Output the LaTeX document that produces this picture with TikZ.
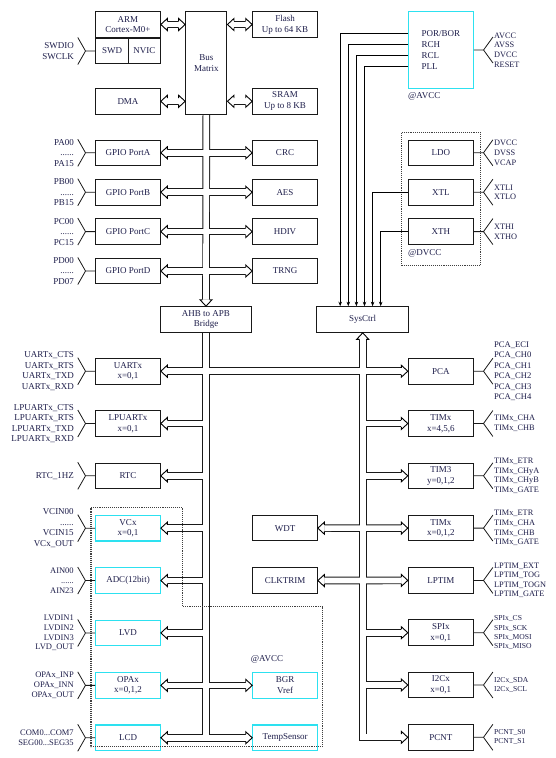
\documentclass[tikz,border=0pt]{standalone}
\usepackage{fontspec}
\setmainfont{Liberation Serif}
\usetikzlibrary{arrows.meta,positioning,calc,backgrounds}
\definecolor{ink}{RGB}{30,30,75}
\definecolor{aqua}{RGB}{45,225,240}
\tikzset{
  >=Stealth,
  every picture/.append style={line width=0.8pt},
}
\tikzset{
  hd/.pic={
    \fill[white] (-6.5,6) -- (0,0) -- (-6.5,-6) -- cycle;
    \draw[line width=0.9pt, line join=miter] (-6.5,3.3) -- (-6.5,6) -- (0,0) -- (-6.5,-6) -- (-6.5,-3.3);
  },
  bothtips/.style={shorten <=6.5pt, shorten >=6.5pt},
  endtip/.style={shorten >=6.5pt}
}

% bus channels: drawn once as outline, once hollow
\newcommand\busnet[1]{%
  \draw[#1,bothtips] (arm.east) -- (arm.east -| busmx.west);
  \draw[#1,bothtips] (dma.east) -- (dma.east -| busmx.west);
  \draw[#1,bothtips] (busmx.east |- flash.west) -- (flash.west);
  \draw[#1,bothtips] (busmx.east |- sram.west) -- (sram.west);
  \draw[#1,endtip] (busmx.south) -- (bridge.north);
  \foreach \p/\q in {porta/crc,portb/aes,portc/hdiv,portd/trng,uart/pca,opa/bgr,lcd/tsens,wdt/timc,clktrim/lptim}
    \draw[#1,bothtips] (\p.east) -- (\q.west);
  \draw[#1] (bridge.south) -- (bridge.south |- lcd.east);
  \foreach \p in {lpuart,rtc,vcx,adc,lvd}
    \draw[#1,endtip] (bridge.south |- \p.east) -- (\p.east);
  \draw[#1,bothtips] (sysctrl.south) -- (sysctrl.south |- pcnt.west) -- (pcnt.west);
  \foreach \p in {tima,timb,spi,i2c}
    \draw[#1,endtip] (sysctrl.south |- \p.west) -- (\p.west);
}
% pin brackets
\newcommand\pinsL[3][pinl]{%
  \draw[brk] (#2.west) -- ++(-9.7,0) coordinate (#2-k) -- ++(-7.7,-13.5) (#2-k) -- ++(-7.7,13.5);
  \node[#1] (#2-pins) at ($(#2-k)+(-11.3,0)$) {#3};
}
\newcommand\pinsR[3][pinr]{%
  \draw[brk] (#2.east) -- ++(9.7,0) coordinate (#2-k) -- ++(9.4,-13) (#2-k) -- ++(9.4,13);
  \node[#1] (#2-pins) at ($(#2-k)+(10.2,0)$) {#3};
}

\begin{document}
\begin{tikzpicture}[x=1pt, y=-1pt,
  blk/.style={draw=black!90, line width=1pt, minimum width=64.6pt, minimum height=25.6pt, align=center, inner sep=1pt, text=ink, font=\fontsize{9}{10.7}\selectfont},
  ana/.style={blk, draw=aqua, line width=1.1pt},
  pinl/.style={inner sep=0pt, align=right, anchor=east, text=ink, font=\fontsize{9}{10.5}\selectfont},
  pinls/.style={pinl, font=\fontsize{8.5}{9.7}\selectfont},
  pinr/.style={inner sep=0pt, align=left, anchor=west, text=ink, font=\fontsize{8.3}{9.6}\selectfont},
  pinrs/.style={pinr, font=\fontsize{7.6}{9.2}\selectfont},
  tag/.style={inner sep=0pt, text=ink, font=\fontsize{9}{10}\selectfont},
  brk/.style={draw=black!90, line width=0.8pt},
  feed/.style={-{Stealth[length=4.5pt,width=3.5pt]}, line width=0.7pt},
  zone/.style={densely dotted, line width=1.1pt, draw=black!75},
  busout/.style={line width=7.6pt, draw=black!90},
  busin/.style={line width=5.7pt, draw=white}
]

% Core and bus matrix
\node[blk] (arm) at (128,24.5) {ARM\\Cortex-M0+};
\node[blk, minimum width=32.6pt, minimum height=25.4pt, anchor=north west] (swd) at (arm.south west) {SWD};
\node[blk, minimum width=32pt, minimum height=25.4pt, anchor=north east] (nvic) at (arm.south east) {NVIC};
\node[blk, minimum width=41.3pt, minimum height=102.6pt] (busmx) at (206.3,63) {Bus\\Matrix};
\node[blk] (dma) at (128,101.3) {DMA};
\node[blk, right=91.4pt of arm] (flash) {Flash\\Up to 64 KB};
\node[blk, right=91.4pt of dma] (sram) {SRAM\\Up to 8 KB};

% AHB peripherals
\node[blk] (porta) at (128,152.8) {GPIO PortA};
\node[blk, below=12.8pt of porta] (portb) {GPIO PortB};
\node[blk, below=12.8pt of portb] (portc) {GPIO PortC};
\node[blk, below=12.8pt of portc] (portd) {GPIO PortD};
\node[blk, right=91.4pt of porta] (crc) {CRC};
\node[blk, right=91.4pt of portb] (aes) {AES};
\node[blk, right=91.4pt of portc] (hdiv) {HDIV};
\node[blk, right=91.4pt of portd] (trng) {TRNG};

\node[blk, minimum width=91pt] (bridge) at (206,319.5) {AHB to APB\\Bridge};
\node[blk, minimum width=92pt] (sysctrl) at (362.7,319.5) {SysCtrl};

% Clock and power
\node[ana, minimum width=65pt, minimum height=76.6pt, align=left] (por) at (440.8,50) {POR/BOR\\RCH\\RCL\\PLL};
\node[tag, anchor=north west] (avccA) at ($(por.south west)+(0,3.5)$) {@AVCC};
\node[blk, minimum width=65pt] (ldo) at (440.8,152.8) {LDO};
\node[blk, minimum width=65pt, below=12.8pt of ldo] (xtl) {XTL};
\node[blk, minimum width=65pt, below=12.8pt of xtl] (xth) {XTH};
\node[tag, anchor=north west] (dvcc) at ($(xth.south west)+(0,4.5)$) {@DVCC};
\draw[zone] ($(ldo.north west)+(-6,-6.7)$) rectangle ($(xth.south east)+(7,20.6)$);

% APB left column
\node[blk] (uart) at (128,371.2) {UARTx\\x=0,1};
\node[blk, below=25.7pt of uart] (lpuart) {LPUARTx\\x=0,1};
\node[blk, below=25.7pt of lpuart] (rtc) {RTC};
\node[ana, below=25.7pt of rtc] (vcx) {VCx\\x=0,1};
\node[ana, below=25.7pt of vcx] (adc) {ADC(12bit)};
\node[ana, below=25.7pt of adc] (lvd) {LVD};
\node[ana, below=25.7pt of lvd] (opa) {OPAx\\x=0,1,2};
\node[ana, below=25.7pt of opa] (lcd) {LCD};

% APB middle column
\node[blk, right=91.4pt of vcx] (wdt) {WDT};
\node[blk, right=91.4pt of adc] (clktrim) {CLKTRIM};
\node[ana, right=91.4pt of opa] (bgr) {BGR\\Vref};
\node[ana, right=91.4pt of lcd] (tsens) {TempSensor};
\node[tag, anchor=west] (avccB) at ($(bgr.north west)+(-1.7,-12.7)$) {@AVCC};

% APB right column
\node[blk, minimum width=65pt] (pca) at (440.8,371.2) {PCA};
\node[blk, minimum width=65pt, below=25.7pt of pca] (tima) {TIMx\\x=4,5,6};
\node[blk, minimum width=65pt, below=25.7pt of tima] (timb) {TIM3\\y=0,1,2};
\node[blk, minimum width=65pt, below=25.7pt of timb] (timc) {TIMx\\x=0,1,2};
\node[blk, minimum width=65pt, below=25.7pt of timc] (lptim) {LPTIM};
\node[blk, minimum width=65pt, below=25.7pt of lptim] (spi) {SPIx\\x=0,1};
\node[blk, minimum width=65pt, below=25.7pt of spi] (i2c) {I2Cx\\x=0,1};
\node[blk, minimum width=65pt, below=25.7pt of i2c] (pcnt) {PCNT};

% Analog domain outline
\draw[zone] (91,507.7) -- (182.7,507.7) -- (182.7,606.7) -- (322.7,606.7) -- (322.7,746.7) -- (91,746.7) -- cycle;

% Hollow buses behind the boxes
\begin{scope}[on background layer]
  \fill[white] (0,0) rectangle (555,758);
  \busnet{busout}
  \busnet{busin}
\end{scope}
\path[use as bounding box] (0,0) rectangle (555,758);

% Bus arrow heads
\foreach \n in {arm,dma,porta,portb,portc,portd,uart,lpuart,rtc,vcx,adc,lvd,opa,lcd,wdt,clktrim}
  \pic[rotate=180] at (\n.east) {hd};
\foreach \n in {flash,sram,crc,aes,hdiv,trng,pca,tima,timb,timc,lptim,spi,i2c,pcnt,bgr,tsens}
  \pic at (\n.west) {hd};
\pic at (arm.east -| busmx.west) {hd};
\pic at (dma.east -| busmx.west) {hd};
\pic[rotate=180] at (busmx.east |- flash.west) {hd};
\pic[rotate=180] at (busmx.east |- sram.west) {hd};
\pic[rotate=-90] at (bridge.north) {hd};
\pic[rotate=90] at (sysctrl.south) {hd};

% Clock sources into SysCtrl
\foreach \dy [count=\i from 0] in {-16.5,-5.5,5.5,16.5}
  \draw[feed] ($(por.west)+(0,\dy)$) -| ($(sysctrl.north west)+({24+8.1*\i},0)$);
\draw[feed] (xtl.west) -| ($(sysctrl.north west)+(56.4,0)$);
\draw[feed] (xth.west) -| ($(sysctrl.north west)+(64.5,0)$);

% Pins, left side
\pinsL{swd}{SWDIO\\SWCLK}
\pinsL{porta}{PA00\\......\\PA15}
\pinsL{portb}{PB00\\......\\PB15}
\pinsL{portc}{PC00\\......\\PC15}
\pinsL{portd}{PD00\\......\\PD07}
\pinsL{uart}{UARTx\_CTS\\UARTx\_RTS\\UARTx\_TXD\\UARTx\_RXD}
\pinsL{lpuart}{LPUARTx\_CTS\\LPUARTx\_RTS\\LPUARTx\_TXD\\LPUARTx\_RXD}
\pinsL{rtc}{RTC\_1HZ}
\pinsL{vcx}{VCIN00\\......\\VCIN15\\VCx\_OUT}
\pinsL[pinls]{adc}{AIN00\\......\\AIN23}
\pinsL[pinls]{lvd}{LVDIN1\\LVDIN2\\LVDIN3\\LVD\_OUT}
\pinsL[pinls]{opa}{OPAx\_INP\\OPAx\_INN\\OPAx\_OUT}
\pinsL[pinls]{lcd}{COM0...COM7\\SEG00...SEG35}

% Pins, right side
\pinsR{por}{AVCC\\AVSS\\DVCC\\RESET}
\pinsR{ldo}{DVCC\\DVSS\\VCAP}
\pinsR{xtl}{XTLI\\XTLO}
\pinsR{xth}{XTHI\\XTHO}
\pinsR[pinr, font=\fontsize{8.6}{10.5}\selectfont]{pca}{PCA\_ECI\\PCA\_CH0\\PCA\_CH1\\PCA\_CH2\\PCA\_CH3\\PCA\_CH4}
\pinsR{tima}{TIMx\_CHA\\TIMx\_CHB}
\pinsR{timb}{TIMx\_ETR\\TIMx\_CHyA\\TIMx\_CHyB\\TIMx\_GATE}
\pinsR{timc}{TIMx\_ETR\\TIMx\_CHA\\TIMx\_CHB\\TIMx\_GATE}
\pinsR{lptim}{LPTIM\_EXT\\LPTIM\_TOG\\LPTIM\_TOGN\\LPTIM\_GATE}
\pinsR[pinrs]{spi}{SPIx\_CS\\SPIx\_SCK\\SPIx\_MOSI\\SPIx\_MISO}
\pinsR[pinrs]{i2c}{I2Cx\_SDA\\I2Cx\_SCL}
\pinsR[pinrs]{pcnt}{PCNT\_S0\\PCNT\_S1}

\end{tikzpicture}
\end{document}
